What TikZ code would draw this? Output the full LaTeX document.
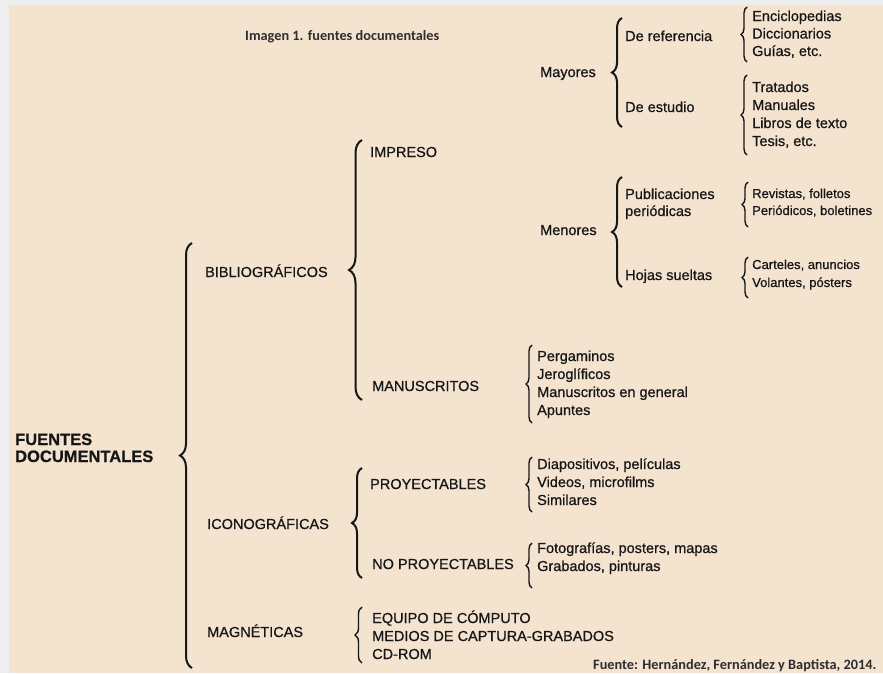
\documentclass[tikz,border=0pt]{standalone}
\usepackage{fontspec}
\setmainfont{Liberation Sans}[FakeBold=0.7]
\newfontfamily\notefont{Carlito}
\usepackage{tikz}
\usetikzlibrary{decorations.pathreplacing}
\definecolor{paper}{HTML}{F4E3CF}
\definecolor{margin}{HTML}{EEEEEE}
\definecolor{ink}{HTML}{161616}
\definecolor{note}{HTML}{2E2E2E}

\begin{document}
\begin{tikzpicture}[x=1pt,y=-1pt,
      decoration=brace,
      item/.style={anchor=base west,inner sep=0pt,text=ink,font=\fontsize{14.5}{17}\selectfont},
      small/.style={item,font=\fontsize{13}{16}\selectfont},
      title/.style={item,font=\bfseries\fontsize{16.5}{19}\selectfont},
      note/.style={anchor=base west,inner sep=0pt,text=note,font=\notefont\bfseries\fontsize{14.3}{16}\selectfont},
      brace line/.style={draw=ink,decorate}]
      \fill[margin] (0,0) rectangle (883,673);
      \fill[paper] (9,5) rectangle (883,673);
      \useasboundingbox (0,0) rectangle (883,673);

      \node[note] (caption) at (245,40) {Imagen 1. fuentes documentales};
      \node[note] (source) at (593,669) {Fuente: Hernández, Fernández y Baptista, 2014.};

      \node[title] (fuentes) at (15,445) {FUENTES};
      \node[title] (documentales) at (15,462) {DOCUMENTALES};

      \node[item] (bib) at (205,277) {BIBLIOGRÁFICOS};
      \node[item] (ico) at (207,529) {ICONOGRÁFICAS};
      \node[item] (mag) at (207,637) {MAGNÉTICAS};

      \node[item] (impreso) at (370,157) {IMPRESO};
      \node[item] (manuscritos) at (372,391) {MANUSCRITOS};
      \node[item] (proy) at (370,489) {PROYECTABLES};
      \node[item] (noproy) at (372,569) {NO PROYECTABLES};
      \foreach \t [count=\i] in {EQUIPO DE CÓMPUTO, MEDIOS DE CAPTURA-GRABADOS, CD-ROM}
        \node[item] (mag-\i) at (372,{623+18*(\i-1)}) {\t};

      \node[item] (mayores) at (540,77) {Mayores};
      \node[item] (menores) at (540,235) {Menores};
      \foreach \t [count=\i] in {Pergaminos, Jeroglíficos, Manuscritos en general, Apuntes}
        \node[item] (man-\i) at (537,{361+18*(\i-1)}) {\t};
      \foreach \t [count=\i] in {{Diapositivos, películas}, {Videos, microfilms}, Similares}
        \node[item] (pro-\i) at (537,{469+18*(\i-1)}) {\t};
      \foreach \t [count=\i] in {{Fotografías, posters, mapas}, {Grabados, pinturas}}
        \node[item] (npr-\i) at (537,{553+18*(\i-1)}) {\t};

      \node[item] (deref) at (625,41) {De referencia};
      \node[item] (deest) at (625,112) {De estudio};
      \node[item] (publ) at (625,199) {Publicaciones};
      \node[item] (periodicas) at (625,216) {periódicas};
      \node[item] (hojas) at (625,280) {Hojas sueltas};

      \foreach \t [count=\i] in {Enciclopedias, Diccionarios, {Guías, etc.}}
        \node[item] (ref-\i) at (752,{21+17.5*(\i-1)}) {\t};
      \foreach \t [count=\i] in {Tratados, Manuales, Libros de texto, {Tesis, etc.}}
        \node[item] (est-\i) at (752,{92+18*(\i-1)}) {\t};
      \foreach \t [count=\i] in {{Revistas, folletos}, {Periódicos, boletines}}
        \node[small] (pub-\i) at (752,{198+17*(\i-1)}) {\t};
      \foreach \t [count=\i] in {{Carteles, anuncios}, {Volantes, pósters}}
        \node[small] (hoj-\i) at (752,{269+18*(\i-1)}) {\t};

      % braces: name/x/top/bottom/amplitude/width
      \foreach \nm/\x/\ya/\yb/\amp/\lw in {main/192/243/668/12/2pt, bib/362/140/400/13/2pt,
          ico/362/468/578/10/2pt, mag/362/607/663/7/1.4pt, may/622/18/127/10/2pt,
          men/622/177/287/10/2pt, ref/747/7/62/6/1.4pt, est/747/75/155/6/1.4pt,
          pub/748/182/227/6/1.4pt, hoj/748/257/298/6/1.4pt, man/532/345/423/6/1.4pt,
          pro/532/457/512/6/1.4pt, npr/532/543/588/6/1.4pt}{
        \coordinate (\nm-top) at (\x,\ya);
        \coordinate (\nm-bot) at (\x,\yb);
        \draw[brace line,line width=\lw,decoration={brace,amplitude=\amp}] (\nm-bot) -- (\nm-top);
      }
    \end{tikzpicture}
\end{document}
